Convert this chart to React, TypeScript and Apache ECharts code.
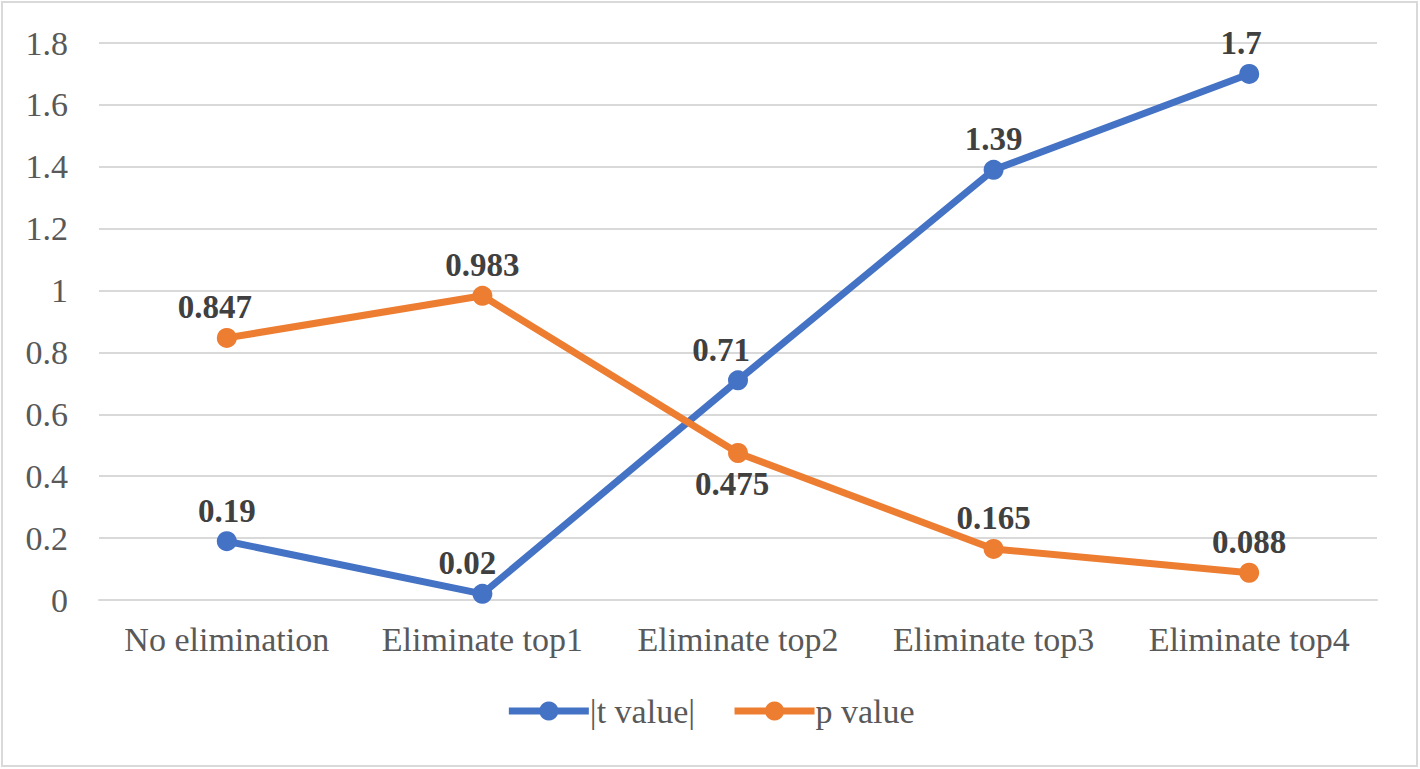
import React, { useEffect, useRef } from "react";
import * as echarts from "echarts";

const categories = ["No elimination", "Eliminate top1", "Eliminate top2", "Eliminate top3", "Eliminate top4"];
const tValues = [0.19, 0.02, 0.71, 1.39, 1.7];
const pValues = [0.847, 0.983, 0.475, 0.165, 0.088];
const seriesNames = ["|t value|", "p value"];

export default function App() {
  const ref = useRef<HTMLDivElement>(null);
  useEffect(() => {
    if (!ref.current) return;
    const chart = echarts.init(ref.current, undefined, { renderer: "svg" });
    const font = "Liberation Serif";
    const labelBase = {
      show: true,
      position: "top",
      distance: 4,
      fontFamily: font,
      fontSize: 33,
      fontWeight: "bold",
      color: "#404040",
    };
    const tOffsets: Record<number, number[]> = { 1: [-15, 0], 2: [-17, 0], 4: [-8, 0], 0: [0, 0] };
    chart.setOption({
      animation: false,
      textStyle: { fontFamily: font },
      graphic: [
        {
          type: "rect",
          shape: { x: 2, y: 2, width: 1415, height: 764 },
          style: { fill: "none", stroke: "#d9d9d9", lineWidth: 2 },
          silent: true,
        },
      ],
      grid: { left: 99, right: 43, top: 43, bottom: 169 },
      legend: {
        bottom: 36,
        left: "center",
        itemWidth: 80,
        itemHeight: 24,
        itemGap: 36,
        data: seriesNames,
        lineStyle: { width: 7 },
        textStyle: { fontFamily: font, fontSize: 34, color: "#595959", padding: [0, 0, 0, -4] },
      },
      xAxis: {
        type: "category",
        data: categories,
        boundaryGap: true,
        axisLine: { lineStyle: { color: "#d9d9d9", width: 2 } },
        axisTick: { show: false },
        axisLabel: { fontFamily: font, fontSize: 34, color: "#595959", margin: 22, interval: 0, hideOverlap: false },
      },
      yAxis: {
        type: "value",
        min: 0,
        max: 1.8,
        interval: 0.2,
        axisLine: { show: false },
        axisTick: { show: false },
        splitLine: { lineStyle: { color: "#d9d9d9", width: 2 } },
        axisLabel: {
          fontFamily: font,
          fontSize: 34,
          color: "#595959",
          margin: 31,
          formatter: (v: number) => String(Math.round(v * 10) / 10),
        },
      },
      series: [
        {
          name: seriesNames[0],
          type: "line",
          data: tValues.map((v, i) => ({
            value: v,
            label: { offset: tOffsets[i] || [0, 0] },
          })),
          color: "#4472C4",
          lineStyle: { width: 7, color: "#4472C4" },
          symbol: "circle",
          symbolSize: 20,
          itemStyle: { color: "#4472C4" },
          label: labelBase,
        },
        {
          name: seriesNames[1],
          type: "line",
          data: pValues.map((v, i) =>
            i === 2
              ? { value: v, label: { position: "bottom", offset: [-6, 0] } }
              : i === 0
              ? { value: v, label: { offset: [-12, 0] } }
              : v
          ),
          color: "#ED7D31",
          lineStyle: { width: 7, color: "#ED7D31" },
          symbol: "circle",
          symbolSize: 20,
          itemStyle: { color: "#ED7D31" },
          label: labelBase,
        },
      ],
    });
    return () => chart.dispose();
  }, []);
  return (
    <div
      ref={ref}
      style={{ position: "fixed", left: 0, top: 0, width: 1420, height: 769, background: "#fff" }}
    />
  );
}
